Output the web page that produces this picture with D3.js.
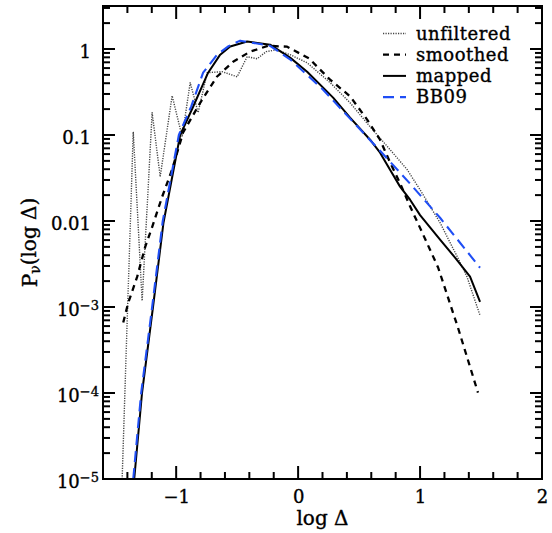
<!DOCTYPE html>
<html><head><meta charset="utf-8">
<script src="https://cdn.jsdelivr.net/npm/d3@7/dist/d3.min.js"></script>
<style>body{margin:0;background:#fff} text{font-family:"DejaVu Serif",serif;fill:#000;stroke:#000;stroke-width:0.35px}</style>
</head><body>
<svg id="c" width="552" height="533"></svg>
<script>
// ---- data (x = log Δ, y = P_v(log Δ)) ----
const unfilteredX = [-1.443,-1.352,-1.279,-1.197,-1.131,-1.033,-0.951,-0.885,-0.820,-0.746,-0.623,-0.500,-0.418,-0.336,-0.262,-0.180,-0.066,0.074,0.262,0.426,0.590,0.754,0.893,1.000,1.164,1.303,1.385,1.490];
const unfilteredY = [1e-5,0.109,0.00118,0.182,0.0327,0.286,0.0955,0.406,0.182,0.530,0.545,0.476,0.813,0.771,0.931,0.977,0.859,0.692,0.407,0.237,0.125,0.0676,0.0398,0.0231,0.00955,0.00389,0.00224,0.000813];

const smoothedX = [-1.434,-1.393,-1.320,-1.254,-1.197,-1.115,-1.033,-0.943,-0.803,-0.664,-0.533,-0.393,-0.246,-0.090,0.090,0.262,0.426,0.566,0.672,0.754,0.836,0.918,1.000,1.148,1.311,1.475];
const smoothedY = [0.00066,0.00112,0.00224,0.0050,0.0085,0.0191,0.0398,0.107,0.237,0.479,0.711,0.933,1.09,1.064,0.776,0.440,0.282,0.151,0.0881,0.0479,0.0275,0.0148,0.00832,0.00288,0.000575,0.000101];

const mappedX = [-1.344,-1.280,-1.190,-1.104,-0.967,-0.861,-0.738,-0.639,-0.557,-0.418,-0.230,-0.066,0.074,0.287,0.426,0.590,0.672,0.754,0.836,0.918,1.000,1.164,1.287,1.410,1.492];
const mappedY = [1e-5,1e-4,0.001,0.00955,0.1,0.213,0.530,0.859,1.07,1.225,1.122,0.794,0.545,0.272,0.159,0.0881,0.0622,0.0394,0.0251,0.0177,0.0117,0.00607,0.00375,0.00225,0.00115];

const bb09X = [-1.352,-1.287,-1.197,-1.110,-0.978,-0.877,-0.779,-0.664,-0.570,-0.475,-0.230,-0.066,0.205,0.426,0.672,0.918,1.164,1.492];
const bb09Y = [1e-5,1e-4,0.001,0.01,0.1,0.214,0.530,0.859,1.08,1.25,1.09,0.759,0.336,0.155,0.0656,0.0272,0.0109,0.00286];

const seriesNames = ["unfiltered","smoothed","mapped","BB09"];
const xTickValues = [-1,0,1,2];
const xTickLabels = ["\u22121","0","1","2"];
const yTickValues = [1e-5,1e-4,1e-3,1e-2,1e-1,1];
const yTickLabels = [["10","\u22125"],["10","\u22124"],["10","\u22123"],["0.01"],["0.1"],["1"]];
const xLabel = "log \u0394";

// ---- layout ----
const L=103,R=542,T=6,B=479;
const svg = d3.select("#c");
const x = d3.scaleLinear().domain([-1.6,2]).range([L,R]);
const y = d3.scaleLog().domain([1e-5,Math.sqrt(10)]).range([B,T]);

const xMinor = d3.range(-16,21,2).map(v=>v/10).filter(v=>Math.abs(v-Math.round(v))>1e-9);
const yMinor = [];
for (let d=-5; d<=0; d++) for (let m=2; m<=9; m++){ const v=m*Math.pow(10,d); if (v<=Math.sqrt(10)) yMinor.push(v); }

const styles = {
  unfiltered:{stroke:"#444", w:1.4, dash:"1.2,1.3"},
  smoothed:{stroke:"#000", w:2.3, dash:"6,5"},
  mapped:{stroke:"#000", w:2, dash:null},
  BB09:{stroke:"#1f4ef5", w:2.1, dash:"11,6"}
};

svg.append("defs").append("clipPath").attr("id","clip")
  .append("rect").attr("x",L).attr("y",T).attr("width",R-L).attr("height",B-T);

const line = d3.line().x(d=>x(d[0])).y(d=>y(d[1]));
const data = {
  unfiltered: d3.zip(unfilteredX, unfilteredY),
  smoothed: d3.zip(smoothedX, smoothedY),
  mapped: d3.zip(mappedX, mappedY),
  BB09: d3.zip(bb09X, bb09Y)
};
const g = svg.append("g").attr("clip-path","url(#clip)");
seriesNames.forEach(n=>{
  const s=styles[n];
  g.append("path").attr("d",line(data[n])).attr("fill","none")
   .attr("stroke",s.stroke).attr("stroke-width",s.w)
   .attr("stroke-dasharray",s.dash).attr("stroke-linejoin","round");
});

// frame
svg.append("rect").attr("x",L).attr("y",T).attr("width",R-L).attr("height",B-T)
  .attr("fill","none").attr("stroke","#000").attr("stroke-width",2);

// ---- ticks (inward, all four sides) ----
const tk = svg.append("g");
function seg(sel){ return sel.attr("stroke","#000").attr("stroke-width",2); }
function xTicks(vals,len){
  seg(tk.selectAll(null).data(vals).join("line")
    .attr("x1",d=>x(d)).attr("x2",d=>x(d)).attr("y1",B).attr("y2",B-len));
  seg(tk.selectAll(null).data(vals).join("line")
    .attr("x1",d=>x(d)).attr("x2",d=>x(d)).attr("y1",T).attr("y2",T+len));
}
function yTicks(vals,len){
  seg(tk.selectAll(null).data(vals).join("line")
    .attr("y1",d=>y(d)).attr("y2",d=>y(d)).attr("x1",L).attr("x2",L+len));
  seg(tk.selectAll(null).data(vals).join("line")
    .attr("y1",d=>y(d)).attr("y2",d=>y(d)).attr("x1",R).attr("x2",R-len));
}
xTicks(xTickValues,13); xTicks(xMinor,7);
yTicks(yTickValues,12); yTicks(yMinor,7);

// tick labels via d3 axes (no lines)
const ax = svg.append("g").attr("transform",`translate(0,${B})`)
  .call(d3.axisBottom(x).tickValues(xTickValues).tickSize(0).tickPadding(11).tickFormat((d,i)=>xTickLabels[i]));
ax.select(".domain").remove();
ax.selectAll(".tick line").remove();
ax.selectAll("text").style("font-family","DejaVu Serif").style("font-size","18px");

const ay = svg.append("g").attr("transform",`translate(${L},0)`)
  .call(d3.axisLeft(y).tickValues(yTickValues).tickSize(0).tickPadding(12).tickFormat(()=>""));
ay.select(".domain").remove();
ay.selectAll(".tick line").remove();
ay.selectAll(".tick text").style("font-family","DejaVu Serif").style("font-size","18px").each(function(d,i){
  const t=d3.select(this), lab=yTickLabels[i];
  t.attr("dy","0.45em");
  if (lab.length===1){ t.text(lab[0]); }
  else {
    t.attr("x",-4);
    t.append("tspan").text(lab[0]);
    t.append("tspan").attr("dy","-0.45em").style("font-size","13px").text(lab[1]);
  }
});

// axis labels
svg.append("text").attr("x",(L+R)/2).attr("y",525).attr("text-anchor","middle")
  .style("font-size","20px").text(xLabel);
const yl = svg.append("text").attr("transform",`translate(37,${(T+B)/2}) rotate(-90)`)
  .attr("text-anchor","middle").style("font-size","20px");
yl.append("tspan").text("P");
yl.append("tspan").attr("dy","0.2em").style("font-size","14px").text("\u03bd");
yl.append("tspan").attr("dy","-0.2em").text("(log \u0394)");

// legend
const lg = svg.append("g");
seriesNames.forEach((n,i)=>{
  const s=styles[n], by=39.5+i*21.2;
  lg.append("line").attr("x1",383).attr("x2",406).attr("y1",by-6).attr("y2",by-6)
    .attr("stroke",s.stroke).attr("stroke-width",s.w).attr("stroke-dasharray",s.dash);
  lg.append("text").attr("x",416).attr("y",by).style("font-size","18px")
    .style("letter-spacing","0.5px").text(n);
});
</script>
</body></html>
